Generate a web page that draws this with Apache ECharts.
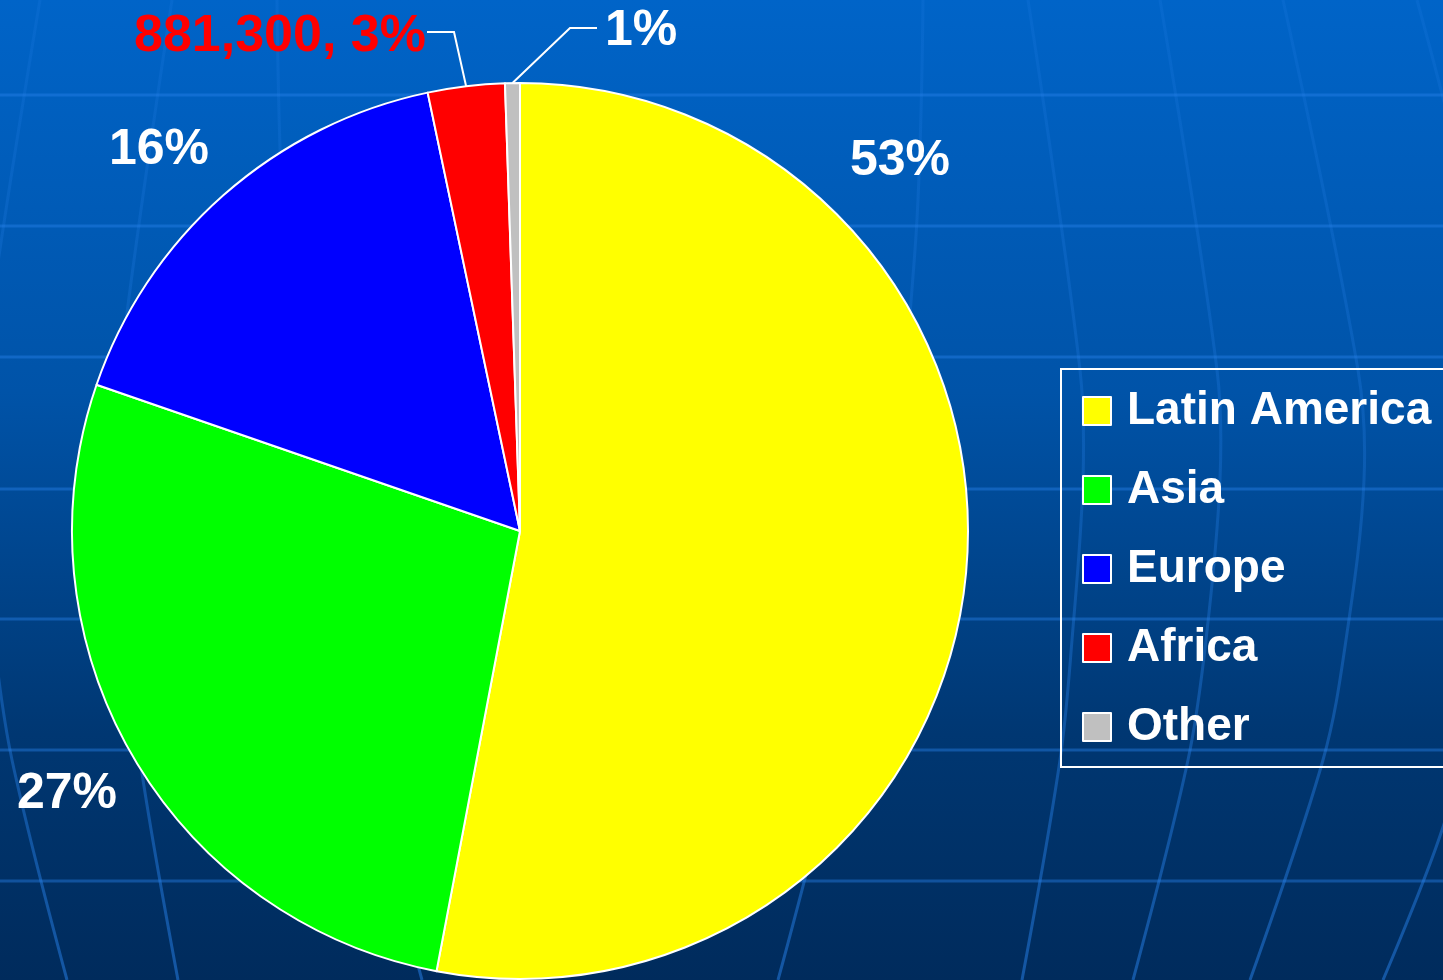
<!DOCTYPE html>
<html>
<head>
<meta charset="utf-8">
<script src="https://cdn.jsdelivr.net/npm/echarts@6/dist/echarts.min.js"></script>
<style>
html,body{margin:0;padding:0;background:#003a7a;}
#chart{width:1443px;height:980px;}
</style>
</head>
<body>
<div id="chart"></div>
<script>
// ---- data ----
const categories = ['Latin America', 'Asia', 'Europe', 'Africa', 'Other'];
const values = [16860000, 8690000, 5220000, 881300, 170000];
const colors = ['#ffff00', '#00ff00', '#0000ff', '#ff0000', '#c0c0c0'];
const showValueInLabel = [false, false, false, true, false];
const labelColors = ['#ffffff', '#ffffff', '#ffffff', '#ff0000', '#ffffff'];

// ---- layout (not data) ----
const W = 1443, H = 980;
const pieCenter = [520, 531];
const pieRadius = 448;
const labelPos = [
  { x: 900, y: 161, align: 'center', size: 50 },
  { x: 67, y: 794, align: 'center', size: 50 },
  { x: 159, y: 150, align: 'center', size: 50 },
  { x: 426, y: 37, align: 'right', size: 52 },
  { x: 605, y: 31, align: 'left', size: 50 }
];
const leaderElbows = [null, null, null, [[454, 32], [427, 32]], [[570, 28], [597, 28]]];

const total = values.reduce((a, b) => a + b, 0);
function midPoint(i) {
  let before = 0;
  for (let k = 0; k < i; k++) before += values[k];
  const frac = (before + values[i] / 2) / total;
  const t = frac * Math.PI * 2;
  return [pieCenter[0] + pieRadius * Math.sin(t), pieCenter[1] - pieRadius * Math.cos(t)];
}

// ---- decorative background grid ----
const hStroke = 'rgba(40,130,235,0.42)';
function vStroke() {
  return new echarts.graphic.LinearGradient(0, 0, 0, 1, [
    { offset: 0, color: 'rgba(40,130,235,0.16)' },
    { offset: 0.5, color: 'rgba(40,130,235,0.28)' },
    { offset: 1, color: 'rgba(40,130,235,0.5)' }
  ]);
}
const bg = [];
[95, 226, 357, 489, 619, 750, 881].forEach(y => {
  bg.push({ type: 'line', silent: true, z: 0,
    shape: { x1: 0, y1: y, x2: W, y2: y },
    style: { stroke: hStroke, lineWidth: 3 } });
});
const rightMeridians = [
  [[923, 0], [915, 250], [880, 560], [778, 980]],
  [[1028, 0], [1080, 370], [1083, 480], [1072, 640], [1060, 760], [1022, 980]],
  [[1160, 0], [1217, 370], [1220, 480], [1206, 640], [1188, 760], [1133, 980]],
  [[1283, 0], [1358, 370], [1364, 480], [1346, 640], [1323, 760], [1250, 980]],
  [[1417, 0], [1490, 300], [1505, 480], [1482, 680], [1442, 830], [1383, 980]]
];
rightMeridians.forEach(pts => {
  const mirror = pts.map(p => [1200 - p[0], p[1]]);
  [pts, mirror].forEach(pp => {
    bg.push({ type: 'polyline', silent: true, z: 0,
      shape: { points: pp, smooth: 0.35 },
      style: { stroke: vStroke(), lineWidth: 3, fill: null } });
  });
});

const chart = echarts.init(document.getElementById('chart'), null, { renderer: 'canvas' });
chart.setOption({
  animation: false,
  backgroundColor: new echarts.graphic.LinearGradient(0, 0, 0, 1, [
    { offset: 0, color: '#0064c8' },
    { offset: 0.4, color: '#0053a8' },
    { offset: 0.75, color: '#003772' },
    { offset: 1, color: '#002b5c' }
  ]),
  graphic: bg,
  legend: {
    orient: 'vertical',
    left: 1061,
    top: 369,
    data: categories,
    icon: 'rect',
    itemWidth: 28,
    itemHeight: 28,
    itemGap: 23,
    padding: [14, 60, 12, 21],
    borderColor: '#ffffff',
    borderWidth: 2,
    itemStyle: { borderColor: '#ffffff', borderWidth: 2 },
    textStyle: {
      color: '#ffffff',
      fontSize: 46,
      fontWeight: 'bold',
      fontFamily: '"Liberation Sans", Arial, sans-serif',
      lineHeight: 50,
      padding: [6, 0, 0, 11]
    }
  },
  series: [{
    type: 'pie',
    center: pieCenter,
    radius: pieRadius,
    startAngle: 90,
    clockwise: true,
    avoidLabelOverlap: false,
    itemStyle: { borderColor: '#ffffff', borderWidth: 2 },
    emphasis: { disabled: true },
    label: {
      show: true,
      position: 'outside',
      fontSize: 50,
      fontWeight: 'bold',
      fontFamily: '"Liberation Sans", Arial, sans-serif',
      formatter: function (p) {
        const pct = Math.round(p.value / total * 100) + '%';
        return showValueInLabel[p.dataIndex] ? p.value.toLocaleString('en-US') + ', ' + pct : pct;
      }
    },
    labelLine: { show: false, lineStyle: { color: '#ffffff', width: 2 } },
    labelLayout: function (params) {
      const i = params.dataIndex;
      const lp = labelPos[i];
      const res = { x: lp.x, y: lp.y, align: lp.align, verticalAlign: 'middle', fontSize: lp.size };
      if (leaderElbows[i]) {
        res.labelLinePoints = [midPoint(i)].concat(leaderElbows[i]);
      }
      return res;
    },
    data: categories.map((name, i) => ({
      name: name,
      value: values[i],
      itemStyle: { color: colors[i] },
      label: { color: labelColors[i], fontSize: labelPos[i].size },
      labelLine: { show: !!leaderElbows[i], smooth: false, length: 10, length2: 10 }
    }))
  }]
});
</script>
</body>
</html>
